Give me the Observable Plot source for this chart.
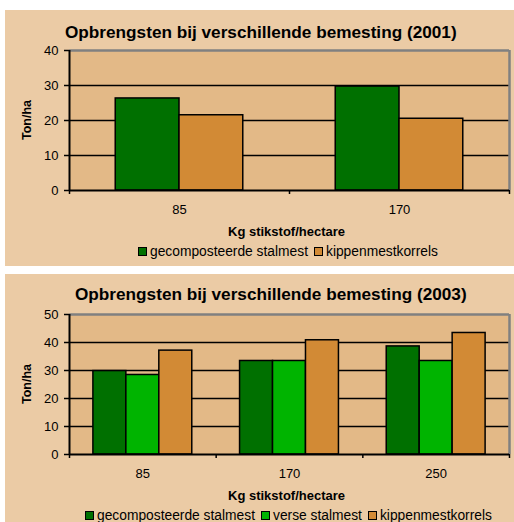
<!DOCTYPE html>
<html>
<head>
<meta charset="utf-8">
<script src="https://cdn.jsdelivr.net/npm/d3@7"></script>
<script src="https://cdn.jsdelivr.net/npm/@observablehq/plot@0.6"></script>
<style>
  body { margin: 0; background: #fff; font-family: "Liberation Sans", Arial, sans-serif; }
  .panel { position: absolute; left: 5px; width: 509px; background: #EBCBA5; }
  .panel svg { position: absolute; left: 0; top: 0; }
  .ov { position: absolute; white-space: nowrap; line-height: 1; text-align: center; }
  .ttl { font-weight: bold; font-size: 17.2px; }
  .xttl { font-weight: bold; font-size: 13px; }
  .yttl { font-weight: bold; font-size: 12.5px; writing-mode: vertical-rl; transform: rotate(180deg); }
  .lgd { font-size: 13.8px; }
  .lgd .sw { display: inline-block; width: 7px; height: 7px; border: 1px solid #000; margin-right: 3px; vertical-align: 0px; }
  .lgd .gapx { display: inline-block; width: 6px; }
</style>
</head>
<body>
<div id="root"></div>
<script>
// ---- data ----
const seriesNames = ["gecomposteerde stalmest", "verse stalmest", "kippenmestkorrels"];
const seriesColors = ["#007000", "#00B400", "#D28A35"];

const title2001 = "Opbrengsten bij verschillende bemesting (2001)";
const categories2001 = ["85", "170"];
const gecomposteerde2001 = [26.3, 29.7];
const kippenmest2001 = [21.5, 20.5];
const yTicks2001 = [0, 10, 20, 30, 40];

const title2003 = "Opbrengsten bij verschillende bemesting (2003)";
const categories2003 = ["85", "170", "250"];
const gecomposteerde2003 = [29.8, 33.4, 38.6];
const verse2003 = [28.4, 33.4, 33.4];
const kippenmest2003 = [37.1, 40.8, 43.4];
const yTicks2003 = [0, 10, 20, 30, 40, 50];

const xTitle = "Kg stikstof/hectare";
const yTitle = "Ton/ha";

// ---- chart builder ----
const gap = 1.45; // Excel gap width (in bar widths)

function makeChart(cfg) {
  const panel = document.createElement("div");
  panel.className = "panel";
  panel.style.top = cfg.top + "px";
  panel.style.height = cfg.height + "px";
  document.getElementById("root").appendChild(panel);

  const n = cfg.categories.length;
  const k = cfg.series.length;
  const yMax = cfg.yTicks[cfg.yTicks.length - 1];
  const bx1 = d => d.i + (gap / 2 + d.j) / (k + gap);
  const bx2 = d => d.i + (gap / 2 + d.j + 1) / (k + gap);
  const rows = cfg.categories.flatMap((cat, i) =>
    cfg.series.map((s, j) => ({ cat, i, j, name: s.name, value: s.values[i] }))
  );

  const chart = Plot.plot({
    width: 509,
    height: cfg.height,
    marginLeft: 64,
    marginRight: 5,
    marginTop: 40,
    marginBottom: cfg.height - 180,
    x: { domain: [0, n], axis: null },
    y: { domain: [0, yMax], axis: null },
    color: { domain: seriesNames, range: seriesColors },
    style: { background: "transparent", fontFamily: "Liberation Sans, Arial, sans-serif", fontSize: "13px", color: "#000" },
    marks: [
      Plot.frame({ fill: "#E3B987", stroke: null }),
      Plot.ruleY(cfg.yTicks.slice(1, -1), { stroke: "#000", strokeWidth: 1.5 }),
      Plot.ruleY([yMax], { stroke: "#808080", strokeWidth: 2.5 }),
      Plot.ruleX([n], { stroke: "#808080", strokeWidth: 2.5 }),
      Plot.rect(rows, {
        x1: bx1,
        x2: bx2,
        y1: d => 0,
        y2: "value",
        fill: "name",
        stroke: "#000",
        strokeWidth: 1.5
      }),
      Plot.ruleX([0], { stroke: "#000", strokeWidth: 2 }),
      Plot.ruleY([0], { stroke: "#000", strokeWidth: 2 }),
      Plot.axisY({ ticks: cfg.yTicks, tickSize: 5, tickPadding: 6, label: null, strokeWidth: 1.5, fontSize: 13 }),
      Plot.axisX({ ticks: d3.range(n + 1), tickSize: 4, tickFormat: () => "", label: null, strokeWidth: 1.5 }),
      Plot.axisX({
        ticks: cfg.categories.map((c, i) => i + 0.5),
        tickSize: 0,
        tickPadding: 14,
        tickFormat: v => cfg.categories[Math.floor(v)],
        label: null,
        fontSize: 13
      })
    ]
  });
  panel.appendChild(chart);

  function place(el, cx, cy) {
    panel.appendChild(el);
    const r = el.getBoundingClientRect();
    el.style.left = Math.round(cx - r.width / 2) + "px";
    el.style.top = Math.round(cy - r.height / 2) + "px";
  }
  function textDiv(cls, text) {
    const el = document.createElement("div");
    el.className = "ov " + cls;
    el.textContent = text;
    return el;
  }
  place(textDiv("ttl", cfg.title), cfg.titleX, cfg.titleY);
  place(textDiv("xttl", xTitle), 282, 221);
  place(textDiv("yttl", yTitle), 22, 110);

  const legend = document.createElement("div");
  legend.className = "ov lgd";
  cfg.series.forEach((s, idx) => {
    if (idx > 0) {
      const g = document.createElement("span");
      g.className = "gapx";
      legend.appendChild(g);
    }
    const sw = document.createElement("span");
    sw.className = "sw";
    sw.style.background = seriesColors[seriesNames.indexOf(s.name)];
    legend.appendChild(sw);
    legend.appendChild(document.createTextNode(s.name));
  });
  place(legend, cfg.legendX, cfg.legendY);
}

makeChart({
  top: 10, height: 256,
  title: title2001, titleX: 256, titleY: 23,
  categories: categories2001,
  series: [
    { name: seriesNames[0], values: gecomposteerde2001 },
    { name: seriesNames[2], values: kippenmest2001 }
  ],
  yTicks: yTicks2001,
  legendX: 283, legendY: 242
});

makeChart({
  top: 274, height: 248,
  title: title2003, titleX: 266, titleY: 21,
  categories: categories2003,
  series: [
    { name: seriesNames[0], values: gecomposteerde2003 },
    { name: seriesNames[1], values: verse2003 },
    { name: seriesNames[2], values: kippenmest2003 }
  ],
  yTicks: yTicks2003,
  legendX: 283, legendY: 242
});
</script>
</body>
</html>
